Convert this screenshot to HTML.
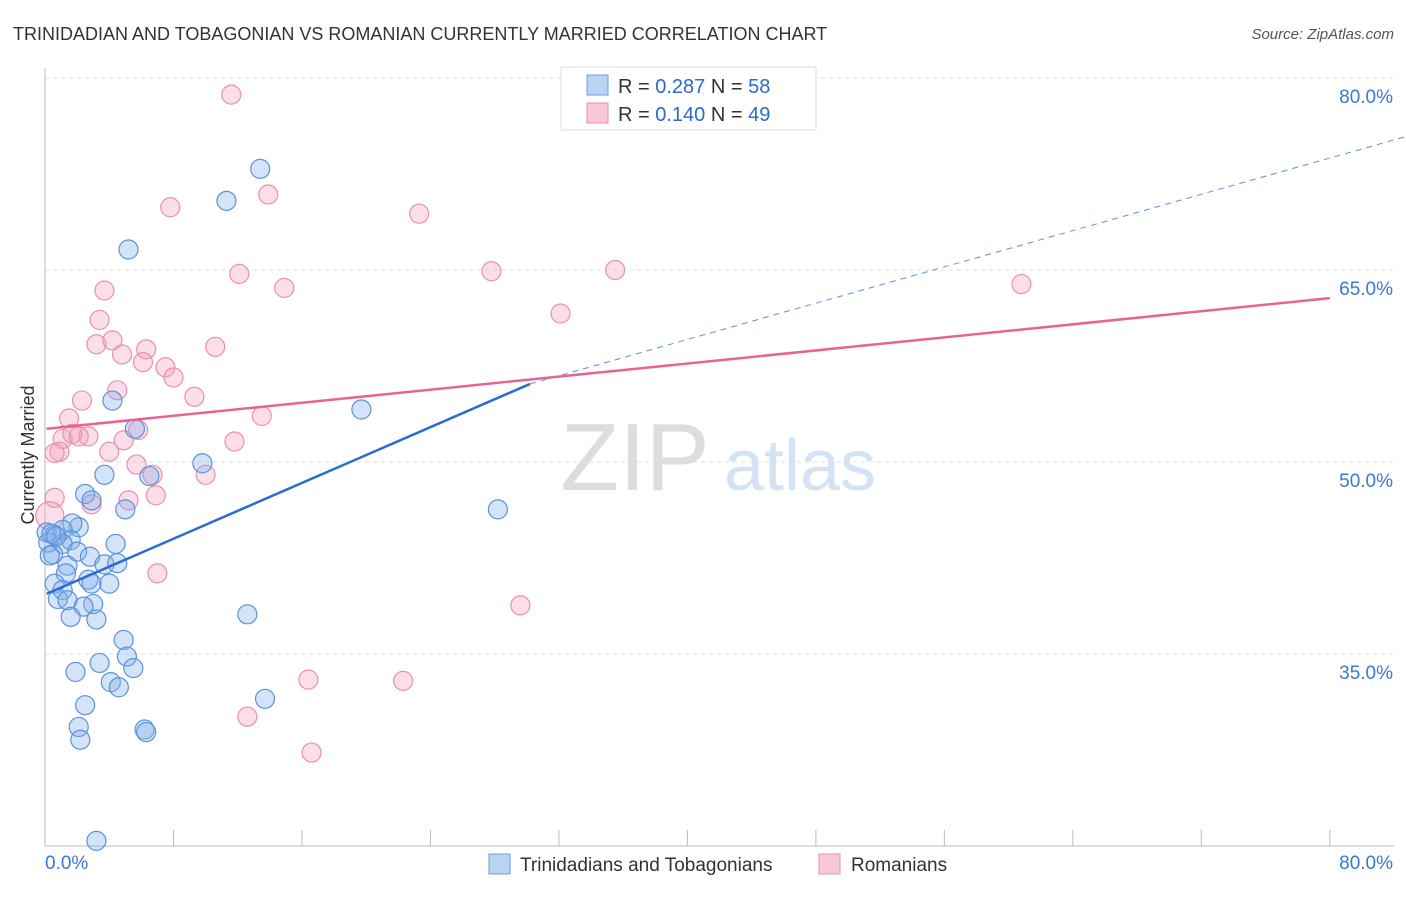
<!DOCTYPE html>
<html><head><meta charset="utf-8"><style>
body{margin:0;background:#fff;font-family:"Liberation Sans",sans-serif}
svg text{font-family:"Liberation Sans",sans-serif}
</style></head><body>
<svg id="chart" width="1406" height="892">
<text x="13" y="40" font-size="18" fill="#333">TRINIDADIAN AND TOBAGONIAN VS ROMANIAN CURRENTLY MARRIED CORRELATION CHART</text>
<text x="1394" y="39" font-size="15" fill="#555" text-anchor="end" font-style="italic">Source: ZipAtlas.com</text>
<text x="635" y="490" font-size="96" fill="#ddd" font-family="Liberation Serif" text-anchor="middle">ZIP</text>
<text x="800" y="490" font-size="72" fill="#d3e2f5" text-anchor="middle">atlas</text>
<text transform="translate(34,455) rotate(-90)" font-size="18" fill="#333" text-anchor="middle">Currently Married</text>
<g id="grid"></g><g id="marks"></g>
<g>
<rect x="561" y="67" width="255" height="63" fill="#fff" stroke="#ddd"/>
<rect x="587" y="75" width="21" height="20" fill="#b9d3f3" stroke="#6a9de0"/>
<rect x="587" y="103" width="21" height="20" fill="#f8c8d6" stroke="#eb8fae"/>
<text x="618" y="93" font-size="20" fill="#333">R = <tspan fill="#2a6ad2">0.287</tspan>   N = <tspan fill="#2a6ad2">58</tspan></text>
<text x="618" y="121" font-size="20" fill="#333">R = <tspan fill="#2a6ad2">0.140</tspan>   N = <tspan fill="#2a6ad2">49</tspan></text>
</g>
<g>
<rect x="489" y="854" width="21" height="20" fill="#b9d3f3" stroke="#6a9de0"/>
<text x="520" y="871" font-size="19" fill="#333">Trinidadians and Tobagonians</text>
<rect x="819" y="854" width="21" height="20" fill="#f8c8d6" stroke="#eb8fae"/>
<text x="851" y="871" font-size="19" fill="#333">Romanians</text>
</g>
</svg>
<script>
const yTicks=[80,65,50,35];
const xTickLabels=["0.0%","80.0%"];
const blueX=[13.4,11.3,5.2,19.7,4.2,5.6,9.8,3.7,6.5,2.5,2.9,5.0,28.2,0.1,0.6,2.1,1.7,1.1,1.6,0.2,1.1,4.4,2.0,2.8,0.5,3.7,4.5,1.4,1.3,2.7,2.9,0.6,4.0,1.1,0.8,1.4,3.0,2.4,1.6,3.2,12.6,4.9,5.1,3.4,1.9,5.5,4.1,4.6,13.7,2.5,2.1,2.2,6.2,6.3,3.2,0.3,0.7,0.4];
const blueY=[72.9,70.4,66.6,54.1,54.8,52.6,49.9,49.0,48.9,47.5,47.0,46.3,46.3,44.5,44.3,44.9,45.2,44.7,43.9,43.7,43.6,43.6,43.0,42.6,42.8,42.0,42.1,41.9,41.3,40.8,40.5,40.5,40.5,40.0,39.3,39.2,38.9,38.7,37.9,37.7,38.1,36.1,34.8,34.3,33.6,33.9,32.8,32.4,31.5,31.0,29.3,28.3,29.1,28.9,20.4,42.7,44.2,44.4];
const pinkX=[11.6,13.9,7.8,23.3,12.1,27.8,35.5,60.8,14.9,3.7,3.4,32.1,3.2,4.2,10.6,6.3,4.8,6.1,7.5,8.0,4.5,9.3,2.3,1.5,5.8,13.5,11.8,4.9,1.1,2.7,1.7,2.1,0.9,0.6,4.0,5.7,6.7,10.0,0.6,2.9,5.2,6.9,0.3,7.0,29.6,16.4,22.3,12.6,16.6];
const pinkY=[78.7,70.9,69.9,69.4,64.7,64.9,65.0,63.9,63.6,63.4,61.1,61.6,59.2,59.5,59.0,58.8,58.4,57.8,57.4,56.6,55.6,55.1,54.8,53.4,52.5,53.6,51.6,51.7,51.8,52.0,52.2,52.0,50.8,50.7,50.8,49.8,49.0,49.0,47.2,46.7,47.0,47.4,45.8,41.3,38.8,33.0,32.9,30.1,27.3];
const blueLine=[0.1,39.7,30.2,56.1];
const blueDash=[30.2,56.1,92,78];
const pinkLine=[0.1,52.6,80,62.8];
const X=v=>45+v*16.06, Y=v=>78+(80-v)*12.8;
const NS="http://www.w3.org/2000/svg";
const grid=document.getElementById('grid'), marks=document.getElementById('marks');
function mk(tag,attrs,parent){const e=document.createElementNS(NS,tag);for(const k in attrs)e.setAttribute(k,attrs[k]);parent.appendChild(e);return e;}
yTicks.forEach(t=>{
 const l=mk('line',{x1:45,x2:1394,y1:Y(t),y2:Y(t),stroke:'#ddd','stroke-dasharray':'4,4'},grid);
 
 
 const tx=mk('text',{x:1393,y:Y(t)+25,'font-size':19,fill:'#3a78d6','text-anchor':'end'},grid);
 tx.textContent=t.toFixed(1)+'%';
 
 
});
const ax=mk('line',{x1:45,x2:45,y1:68,y2:846,stroke:'#bbb'},grid);


const bx=mk('line',{x1:45,x2:1394,y1:846,y2:846,stroke:'#bbb'},grid);


for(let i=1;i<=10;i++){const t=mk('line',{x1:X(i*8),x2:X(i*8),y1:830,y2:846,stroke:'#bbb'},grid);
 
 }
xTickLabels.forEach((s,i)=>{const t=mk('text',{x:i?1393:45,y:869,'font-size':19,fill:'#3a78d6','text-anchor':i?'end':'start'},grid);t.textContent=s;
 
 });
pinkX.forEach((v,i)=>{const c=mk('circle',{cx:X(v),cy:Y(pinkY[i]),r:i==42?14:9.5,fill:'rgba(244,160,188,0.35)',stroke:'#eb8fae','stroke-width':1.2},marks);
 
 });
blueX.forEach((v,i)=>{const c=mk('circle',{cx:X(v),cy:Y(blueY[i]),r:9.5,fill:'rgba(130,175,235,0.35)',stroke:'#5b92dc','stroke-width':1.2},marks);
 
 });
const bl=mk('line',{x1:X(blueLine[0]),y1:Y(blueLine[1]),x2:X(blueLine[2]),y2:Y(blueLine[3]),stroke:'#2a6ad2','stroke-width':2.5},marks);


const bd=mk('line',{x1:X(blueDash[0]),y1:Y(blueDash[1]),x2:X(blueDash[2]),y2:Y(blueDash[3]),stroke:'#5b92dc','stroke-width':1,'stroke-dasharray':'6,5'},marks);


const pl=mk('line',{x1:X(pinkLine[0]),y1:Y(pinkLine[1]),x2:X(pinkLine[2]),y2:Y(pinkLine[3]),stroke:'#e8648f','stroke-width':2.5},marks);


</script>
</body></html>
